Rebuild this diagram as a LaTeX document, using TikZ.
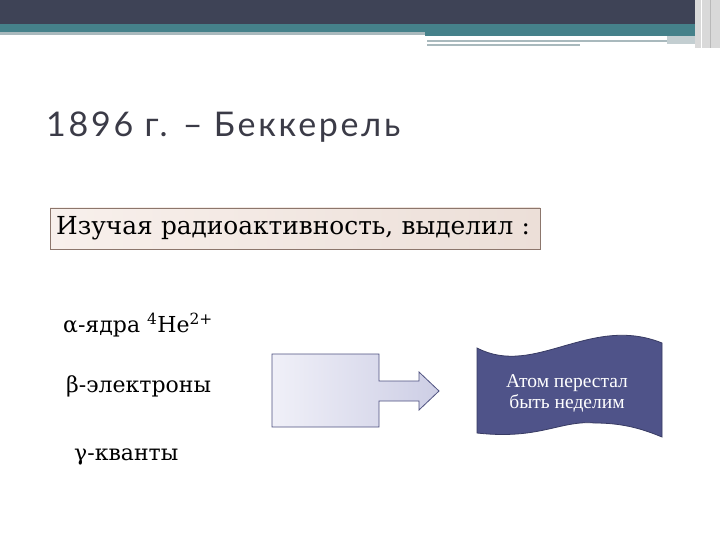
\documentclass[tikz,border=0pt]{standalone}
\usepackage{fontspec}
\setmainfont{Liberation Serif}
\newfontfamily\headfont[LetterSpace=8]{Lato}
\newfontfamily\labelfont{DejaVu Serif}

\begin{document}
\begin{tikzpicture}[x=1pt,y=-1pt]
    \definecolor{slide_dark}{HTML}{3E4356}
    \definecolor{slide_teal}{HTML}{45818A}
    \definecolor{slide_gray}{HTML}{A9B9BD}
    \definecolor{title_gray}{HTML}{3B3B47}
    \definecolor{box_edge}{HTML}{8C766C}
    \definecolor{box_fill}{HTML}{F8F0EC}
    \definecolor{box_fill2}{HTML}{ECDFD8}
    \definecolor{arrow_edge}{HTML}{4E5180}
    \definecolor{arrow_fill}{HTML}{F0F0F8}
    \definecolor{arrow_fill2}{HTML}{CDCEE5}
    \definecolor{tape_fill}{HTML}{4F5389}
    \definecolor{tape_edge}{HTML}{383B63}
    %\draw[help lines, step=20] (0,0) grid (720,540);

    \useasboundingbox (0,0) rectangle (720,540);
    \path[fill=white] (0,0) rectangle (720,540);

    % header bars
    \path[fill=slide_dark] (0,0) rectangle (695,24);
    \path[fill=slide_teal] (0,24) rectangle (695,32);
    \path[fill=slide_teal] (425,32) rectangle (695,36);
    \path[fill=slide_gray] (0,32) rectangle (425,35);
    \path[fill=slide_gray] (427,40) rectangle (667,42);
    \path[fill=slide_gray] (427,44) rectangle (580,46);
    \path[fill=slide_gray!70] (667,36) rectangle (695,44);
    \path[fill=gray!30] (695,0) rectangle (720,48);
    \draw[white, line width=1pt] (701,0) -- (701,48);
    \draw[gray!55, line width=1pt] (710,0) -- (710,48);

    \node[anchor=base west, font=\headfont\fontsize{34}{36}\selectfont, text=title_gray, inner sep=0pt] (title) at (46,137) {1896 г. – Беккерель};

    \node[anchor=west, draw=box_edge, left color=box_fill, right color=box_fill2,
          text width=478pt, align=left, inner xsep=6pt, minimum height=41pt,
          font=\labelfont\fontsize{24.8}{28}\selectfont] (task) at (50,228.5) {Изучая радиоактивность, выделил :};

    \node[anchor=base west, inner sep=0pt, font=\labelfont\fontsize{22}{24}\selectfont] (alpha) at (63,332) {α-ядра \textsuperscript{4}He\textsuperscript{2+}};
    \node[anchor=base west, inner sep=0pt, font=\labelfont\fontsize{22}{24}\selectfont] (beta) at (66,392) {β-электроны};
    \node[anchor=base west, inner sep=0pt, font=\labelfont\fontsize{22}{24}\selectfont] (gamma) at (74,460) {γ-кванты};

    % block arrow
    \path[draw=arrow_edge, line width=0.8pt, left color=arrow_fill, right color=arrow_fill2]
        (272,354) -- (379,354) -- (379,381) -- (419,381) -- (419,372) -- (439,391)
        -- (419,410) -- (419,401) -- (379,401) -- (379,427) -- (272,427) -- cycle;

    % punched tape
    \path[draw=tape_edge, line width=0.8pt, fill=tape_fill]
        (477,348) .. controls (535,378) and (590,314) .. (662,343)
        -- (662,437) .. controls (645,430) and (625,423) .. (595,423)
        .. controls (560,420) and (540,440) .. (477,433) -- cycle;
    \node[text=white, align=center, font=\fontsize{19.5}{21}\selectfont] (result) at (567,393) {Атом перестал\\быть неделим};

\end{tikzpicture}
\end{document}
